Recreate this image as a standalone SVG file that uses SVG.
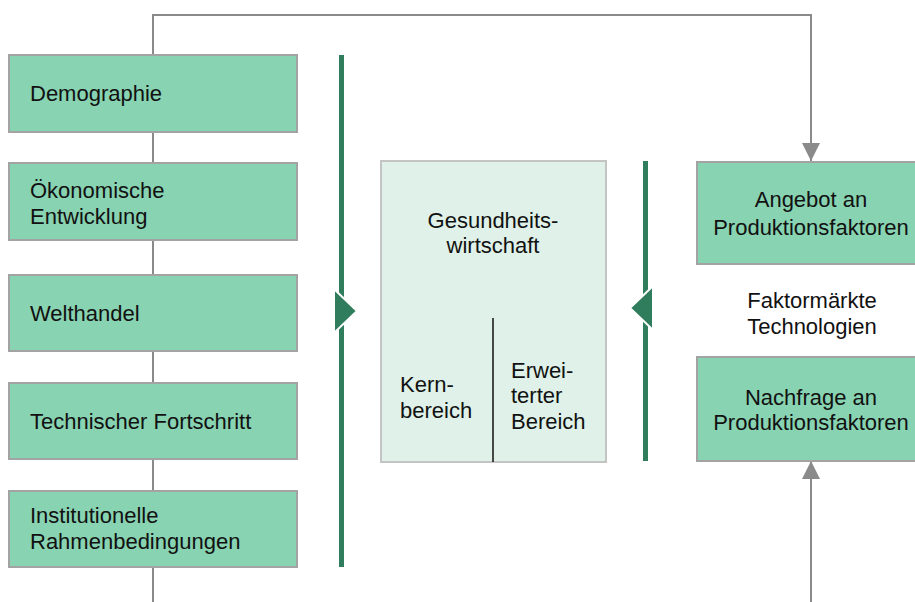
<svg xmlns="http://www.w3.org/2000/svg" width="915" height="602" viewBox="0 0 915 602">
<defs>
<style>
.box{fill:#88d3b1;stroke:#a3a3a3;stroke-width:2}
.core{fill:#dff1e8;stroke:#c4c4c4;stroke-width:2}
.t{font-family:"Liberation Sans",Arial,sans-serif;font-size:22px;fill:#111}
.c{text-anchor:middle}
.ln{stroke:#8a8a8a;stroke-width:2;fill:none}
.bar{fill:#2f7d5c}
.tri{fill:#2f7d5c;stroke:#fff;stroke-width:2}
</style>
<marker id="ah" markerUnits="userSpaceOnUse" markerWidth="18" markerHeight="18" viewBox="0 0 18 18" refX="18" refY="9" orient="auto">
<path d="M0,0 L18,9 L0,18 Z" fill="#8a8a8a"/>
</marker>
</defs>
<g id="connectors">
<path class="ln" d="M153,602 V15 H811 V161" marker-end="url(#ah)"/>
<path class="ln" d="M811,602 V461" marker-end="url(#ah)"/>
</g>
<g id="bars">
<rect class="bar" x="339" y="55" width="5" height="512"/>
<path class="tri" d="M334,289 L357,311 L334,333 Z"/>
<rect class="bar" x="643" y="161" width="5" height="300"/>
<path class="tri" d="M653,286 L630,308 L653,330 Z"/>
</g>
<g id="demographie">
<rect class="box" x="9" y="55" width="288" height="77"/>
<text class="t" x="30" y="101">Demographie</text>
</g>
<g id="oekonomische">
<rect class="box" x="9" y="163" width="288" height="77"/>
<text class="t" x="30" y="198">Ökonomische</text>
<text class="t" x="30" y="224">Entwicklung</text>
</g>
<g id="welthandel">
<rect class="box" x="9" y="275" width="288" height="76"/>
<text class="t" x="30" y="321">Welthandel</text>
</g>
<g id="technischer">
<rect class="box" x="9" y="383" width="288" height="76"/>
<text class="t" x="30" y="429">Technischer Fortschritt</text>
</g>
<g id="institutionelle">
<rect class="box" x="9" y="491" width="288" height="76"/>
<text class="t" x="30" y="523">Institutionelle</text>
<text class="t" x="30" y="549">Rahmenbedingungen</text>
</g>
<g id="gesundheitswirtschaft">
<rect class="core" x="381" y="161" width="225" height="301"/>
<text class="t c" x="493" y="228">Gesundheits-</text>
<text class="t c" x="493" y="253">wirtschaft</text>
<line x1="493" y1="318" x2="493" y2="462" stroke="#111" stroke-width="1.5"/>
<text class="t" x="400" y="392">Kern-</text>
<text class="t" x="400" y="418">bereich</text>
<text class="t" x="511" y="378">Erwei-</text>
<text class="t" x="511" y="403">terter</text>
<text class="t" x="511" y="429">Bereich</text>
</g>
<g id="angebot">
<rect class="box" x="697" y="162" width="228" height="102"/>
<text class="t c" x="811" y="207">Angebot an</text>
<text class="t c" x="811" y="235">Produktionsfaktoren</text>
</g>
<g id="faktormaerkte">
<text class="t c" x="812" y="308">Faktormärkte</text>
<text class="t c" x="812" y="334">Technologien</text>
</g>
<g id="nachfrage">
<rect class="box" x="697" y="357" width="228" height="104"/>
<text class="t c" x="811" y="405">Nachfrage an</text>
<text class="t c" x="811" y="430">Produktionsfaktoren</text>
</g>
</svg>
